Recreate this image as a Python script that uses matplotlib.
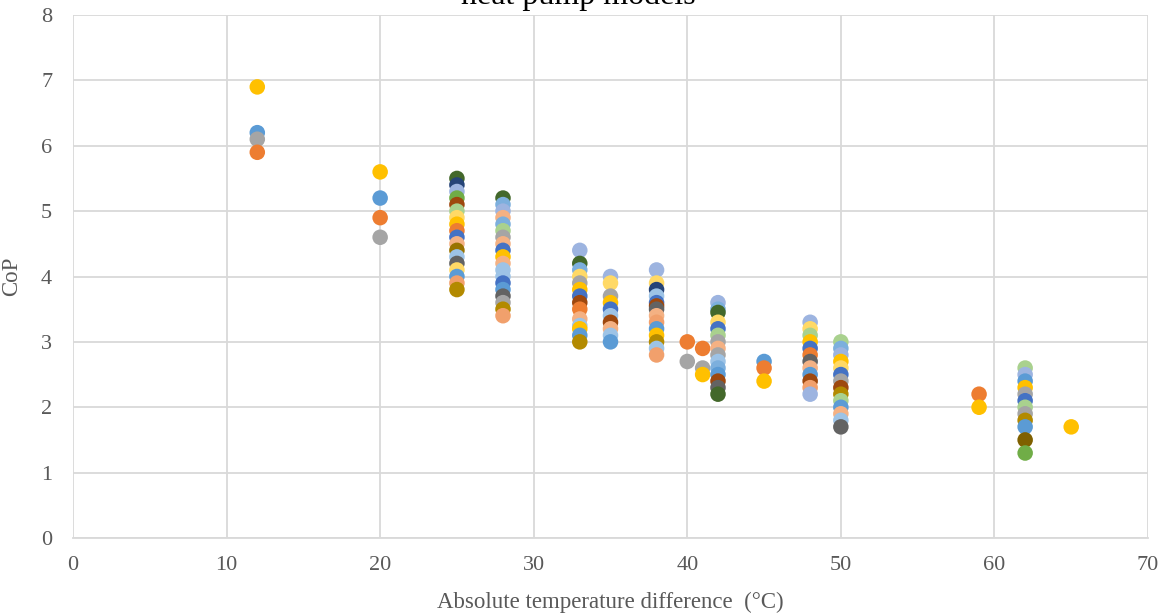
import matplotlib.pyplot as plt

plt.rcParams['font.family'] = ['Liberation Serif', 'DejaVu Serif']

# excel-ish palette
pal = {
    'blue': '#5B9BD5', 'orange': '#ED7D31', 'gray': '#A5A5A5', 'gold': '#FFC000',
    'dblue': '#4472C4', 'green': '#70AD47', 'navy': '#264478', 'brown': '#9E480E',
    'dgray': '#636363', 'olive': '#997300', 'dgreen': '#43682B', 'ltblue': '#9DC3E6',
    'peach': '#F4B183', 'ltyellow': '#FFD966', 'lavender': '#9DB4E0', 'ltgreen': '#A9D18E',
    'olive2': '#B38A00', 'dkbrown': '#7F6000', 'peach2': '#F1A06C', 'midblue': '#7CAFDD',
}

# CoP values at each temperature difference, listed top to bottom
cop_12 = [6.9, 6.2, 6.1, 5.9]
col_12 = ['gold', 'blue', 'gray', 'orange']
cop_20 = [5.6, 5.2, 4.9, 4.6]
col_20 = ['gold', 'blue', 'orange', 'gray']
cop_25 = [5.5, 5.4, 5.3, 5.2, 5.1, 5.0, 4.9, 4.8, 4.7, 4.6, 4.5, 4.4, 4.3, 4.2, 4.1, 4.0, 3.9, 3.8]
col_25 = ['dgreen', 'navy', 'lavender', 'green', 'brown', 'ltgreen', 'ltyellow', 'gold', 'orange',
          'dblue', 'peach', 'olive', 'ltblue', 'dgray', 'ltyellow', 'blue', 'peach2', 'olive2']
cop_28 = [5.2, 5.1, 5.0, 4.9, 4.8, 4.7, 4.6, 4.5, 4.4, 4.3, 4.2, 4.1, 4.0, 3.9, 3.8, 3.7, 3.6, 3.5, 3.4]
col_28 = ['dgreen', 'midblue', 'lavender', 'peach', 'midblue', 'ltgreen', 'gray', 'peach', 'dblue', 'gold',
          'peach', 'ltblue', 'ltblue', 'dblue', 'blue', 'dgray', 'gray', 'olive2', 'peach2']
cop_33 = [4.4, 4.2, 4.1, 4.0, 3.9, 3.8, 3.7, 3.6, 3.5, 3.35, 3.25, 3.2, 3.1, 3.0]
col_33 = ['lavender', 'dgreen', 'midblue', 'ltyellow', 'gray', 'gold', 'dblue', 'brown', 'orange',
          'peach', 'ltblue', 'gold', 'blue', 'olive2']
cop_35 = [4.0, 3.9, 3.7, 3.6, 3.5, 3.4, 3.3, 3.2, 3.1, 3.0]
col_35 = ['lavender', 'ltyellow', 'gray', 'gold', 'dblue', 'ltblue', 'brown', 'peach', 'ltblue', 'blue']
cop_38 = [4.1, 3.9, 3.8, 3.7, 3.6, 3.55, 3.5, 3.4, 3.3, 3.2, 3.1, 3.0, 2.9, 2.8]
col_38 = ['lavender', 'ltyellow', 'navy', 'ltblue', 'dblue', 'brown', 'dgray', 'peach', 'peach2',
          'blue', 'gold', 'olive2', 'ltblue', 'peach2']
cop_40 = [3.0, 2.7]
col_40 = ['orange', 'gray']
cop_41 = [2.9, 2.6, 2.5]
col_41 = ['orange', 'gray', 'gold']
cop_42 = [3.6, 3.5, 3.45, 3.3, 3.2, 3.1, 3.0, 2.9, 2.8, 2.7, 2.6, 2.5, 2.4, 2.3, 2.2]
col_42 = ['lavender', 'midblue', 'dgreen', 'ltyellow', 'dblue', 'ltgreen', 'gray', 'peach', 'gray',
          'ltblue', 'midblue', 'blue', 'brown', 'dgray', 'dgreen']
cop_45 = [2.7, 2.6, 2.4]
col_45 = ['blue', 'orange', 'gold']
cop_48 = [3.3, 3.2, 3.1, 3.0, 2.9, 2.8, 2.7, 2.6, 2.5, 2.4, 2.3, 2.2]
col_48 = ['lavender', 'ltyellow', 'ltgreen', 'gold', 'dblue', 'orange', 'dgray', 'peach', 'blue',
          'brown', 'peach2', 'lavender']
cop_50 = [3.0, 2.9, 2.8, 2.7, 2.6, 2.5, 2.4, 2.3, 2.2, 2.1, 2.0, 1.9, 1.8, 1.7]
col_50 = ['ltgreen', 'midblue', 'lavender', 'gold', 'ltyellow', 'dblue', 'gray', 'brown', 'olive2',
          'ltgreen', 'blue', 'peach', 'ltblue', 'dgray']
cop_59 = [2.2, 2.0]
col_59 = ['orange', 'gold']
cop_62 = [2.6, 2.5, 2.4, 2.3, 2.2, 2.1, 2.0, 1.9, 1.8, 1.7, 1.5, 1.3]
col_62 = ['ltgreen', 'lavender', 'blue', 'gold', 'gray', 'dblue', 'ltgreen', 'gray', 'olive2',
          'blue', 'dkbrown', 'green']
cop_65 = [1.7]
col_65 = ['gold']

groups = [(12, cop_12, col_12), (20, cop_20, col_20), (25, cop_25, col_25), (28, cop_28, col_28),
          (33, cop_33, col_33), (35, cop_35, col_35), (38, cop_38, col_38), (40, cop_40, col_40),
          (41, cop_41, col_41), (42, cop_42, col_42), (45, cop_45, col_45), (48, cop_48, col_48),
          (50, cop_50, col_50), (59, cop_59, col_59), (62, cop_62, col_62), (65, cop_65, col_65)]

fig = plt.figure(figsize=(11.66, 6.16), dpi=100)
ax = fig.add_axes([73/1166, 78/616, 1075/1166, 523/616])

for dt, cops, cols in groups:
    for c, name in zip(cops, cols):
        ax.scatter(dt, c, s=125, color=pal[name], edgecolors='none', zorder=3)

ax.set_xlim(0, 70)
ax.set_ylim(0, 8)
ax.set_xticks(range(0, 71, 10))
ax.set_yticks(range(0, 9))
ax.grid(True, color='#D9D9D9', linewidth=1.3)
ax.set_axisbelow(True)
for s in ['top', 'right', 'left']:
    ax.spines[s].set_visible(False)
ax.spines['bottom'].set_color('#D9D9D9')
ax.spines['bottom'].set_linewidth(1.3)
ax.tick_params(axis='both', length=0, labelsize=16, labelcolor='#595959')
ax.tick_params(axis='x', pad=13)
ax.tick_params(axis='y', pad=15)

ax.set_xlabel("Absolute temperature difference  (°C)", fontsize=16.5, color='#595959')
ax.xaxis.set_label_coords(0.5, -0.102)
ax.set_ylabel("CoP", fontsize=16.5, color='#595959')
ax.yaxis.set_label_coords(-0.047, 0.5)

fig.text(578/1166, 1 - 4/616, "heat pump models", fontsize=23, ha='center', va='baseline')

fig.savefig('out.png', dpi=100)
